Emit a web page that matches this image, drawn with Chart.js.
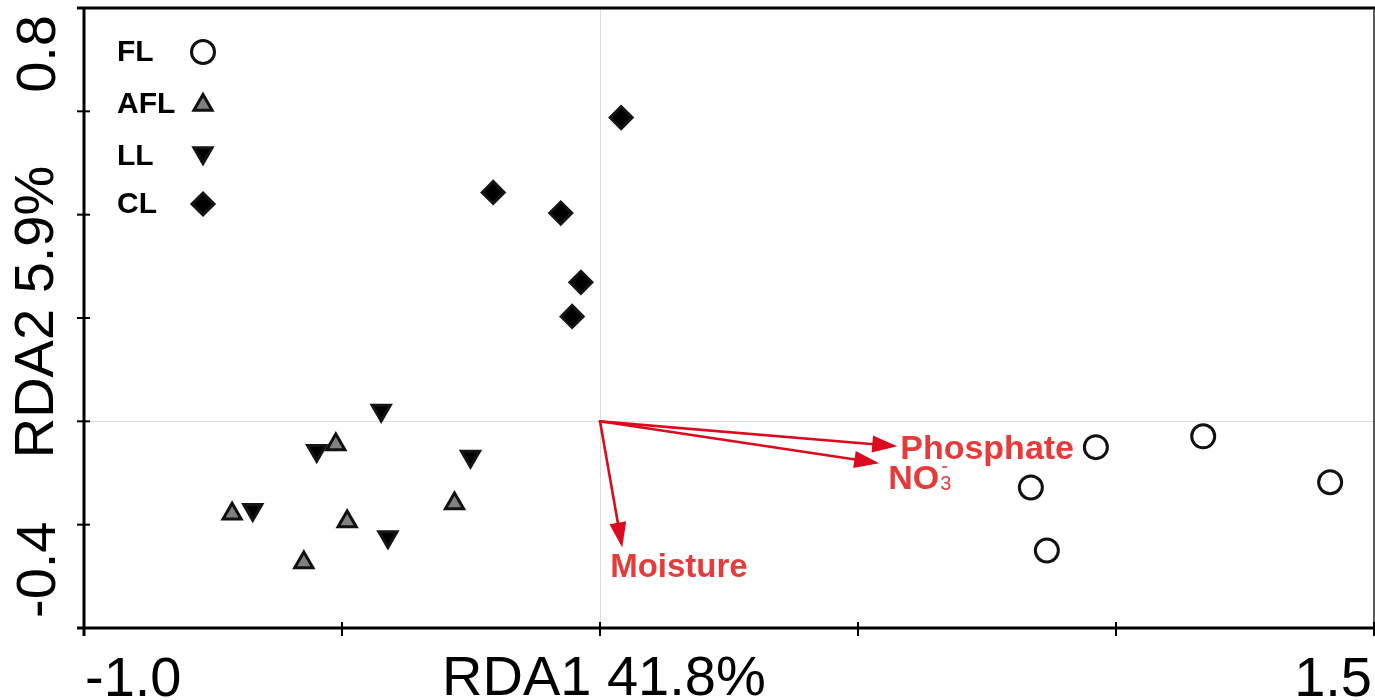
<!DOCTYPE html>
<html><head><meta charset="utf-8">
<script src="https://cdn.jsdelivr.net/npm/chart.js@4.4.1/dist/chart.umd.min.js"></script>
<style>html,body{margin:0;padding:0;background:#fff;}canvas{display:block;}</style>
</head><body>
<canvas id="c" width="1375" height="700"></canvas>
<script>
// ---- data ----
const groupNames = ['FL', 'AFL', 'LL', 'CL'];
const flX  = [0.961, 1.169, 1.415, 0.835, 0.866];
const flY  = [-0.050, -0.029, -0.118, -0.128, -0.250];
const aflX = [-0.512, -0.713, -0.490, -0.282, -0.574];
const aflY = [-0.045, -0.179, -0.194, -0.159, -0.273];
const llX  = [-0.424, -0.549, -0.251, -0.673, -0.411];
const llY  = [0.021, -0.057, -0.068, -0.171, -0.224];
const clX  = [0.041, -0.207, -0.076, -0.037, -0.054];
const clY  = [0.588, 0.443, 0.403, 0.269, 0.203];
const vectorNames = ['Phosphate', 'NO3', 'Moisture'];
const vectorX = [0.576, 0.541, 0.043];
const vectorY = [-0.048, -0.081, -0.244];
const xTickLabels = ['-1.0', '1.5'];
const yTickLabels = ['-0.4', '0.8'];
const xTitle = 'RDA1 41.8%';
const yTitle = 'RDA2 5.9%';

const FONT = '"Liberation Sans", Arial, sans-serif';
const pts = (xs, ys) => xs.map((x, i) => ({x: x, y: ys[i]}));

const styles = [
  {pointStyle: 'circle', radius: 11.5, bg: '#ffffff', border: '#111111', rot: 0},
  {pointStyle: 'triangle', radius: 10.5, bg: '#808080', border: '#111111', rot: 0},
  {pointStyle: 'triangle', radius: 10.5, bg: '#000000', border: '#151515', rot: 180},
  {pointStyle: 'rectRot', radius: 11, bg: '#000000', border: '#151515', rot: 0}
];
const series = [pts(flX, flY), pts(aflX, aflY), pts(llX, llY), pts(clX, clY)];

const datasets = series.map((d, i) => ({
  label: groupNames[i],
  data: d,
  pointStyle: styles[i].pointStyle,
  pointRadius: styles[i].radius,
  pointRotation: styles[i].rot,
  pointBackgroundColor: styles[i].bg,
  pointBorderColor: styles[i].border,
  pointBorderWidth: 3,
  showLine: false,
  clip: false
}));

function marker(ctx, st, x, y) {
  ctx.save();
  ctx.translate(x, y);
  ctx.rotate(st.rot * Math.PI / 180);
  ctx.beginPath();
  const r = st.radius;
  if (st.pointStyle === 'circle') {
    ctx.arc(0, 0, r, 0, Math.PI * 2);
  } else if (st.pointStyle === 'triangle') {
    for (let k = 0; k < 3; k++) {
      const a = k * 2 * Math.PI / 3;
      const px = Math.sin(a) * r, py = -Math.cos(a) * r;
      if (k === 0) ctx.moveTo(px, py); else ctx.lineTo(px, py);
    }
  } else {
    ctx.moveTo(0, -r); ctx.lineTo(r, 0); ctx.lineTo(0, r); ctx.lineTo(-r, 0);
  }
  ctx.closePath();
  ctx.fillStyle = st.bg; ctx.fill();
  ctx.lineWidth = 3; ctx.strokeStyle = st.border; ctx.stroke();
  ctx.restore();
}

const decor = {
  id: 'decor',
  afterDatasetsDraw(chart) {
    const ctx = chart.ctx, xs = chart.scales.x, ys = chart.scales.y;
    const ox = xs.getPixelForValue(0), oy = ys.getPixelForValue(0);
    const arrowCol = '#dc0a1e', textCol = '#e63b3b';
    const labelOff = [[3, 13], [9, 26], [-12, 30]];
    const labelSize = [34, 34, 33];
    vectorX.forEach((vx, i) => {
      const tx = xs.getPixelForValue(vx), ty = ys.getPixelForValue(vectorY[i]);
      const ang = Math.atan2(ty - oy, tx - ox);
      const L = 25, W = 8.5;
      const bx = tx - Math.cos(ang) * L, by = ty - Math.sin(ang) * L;
      ctx.save();
      ctx.strokeStyle = arrowCol; ctx.lineWidth = 2.6; ctx.lineCap = 'round';
      ctx.beginPath(); ctx.moveTo(ox, oy);
      ctx.lineTo(tx - Math.cos(ang) * L * 0.7, ty - Math.sin(ang) * L * 0.7); ctx.stroke();
      ctx.fillStyle = arrowCol;
      ctx.beginPath();
      ctx.moveTo(tx, ty);
      ctx.lineTo(bx - Math.sin(ang) * W, by + Math.cos(ang) * W);
      ctx.lineTo(bx + Math.sin(ang) * W, by - Math.cos(ang) * W);
      ctx.closePath(); ctx.fill();
      // label
      ctx.fillStyle = textCol; ctx.textBaseline = 'alphabetic'; ctx.textAlign = 'left';
      const lx = tx + labelOff[i][0], ly = ty + labelOff[i][1];
      ctx.font = 'bold ' + labelSize[i] + 'px ' + FONT;
      if (vectorNames[i] === 'NO3') {
        ctx.fillText('NO', lx, ly);
        const w = ctx.measureText('NO').width;
        ctx.font = '20px ' + FONT;
        ctx.fillText('3', lx + w + 1, ly + 1);
        ctx.fillRect(lx + w + 3, ly - 23, 5, 1.6);
      } else {
        ctx.fillText(vectorNames[i], lx, ly);
      }
      ctx.restore();
    });
  },
  afterDraw(chart) {
    const ctx = chart.ctx, xs = chart.scales.x, ys = chart.scales.y, ca = chart.chartArea;
    ctx.save();
    ctx.strokeStyle = '#000'; ctx.lineCap = 'butt';
    // top border
    ctx.lineWidth = 3;
    ctx.beginPath(); ctx.moveTo(77, ca.top); ctx.lineTo(ca.right + 1, ca.top); ctx.stroke();
    // right border
    ctx.lineWidth = 1.5; ctx.strokeStyle = '#222';
    ctx.beginPath(); ctx.moveTo(ca.right, ca.top); ctx.lineTo(ca.right, ca.bottom + 8); ctx.stroke();
    ctx.strokeStyle = '#000';
    // left axis
    ctx.lineWidth = 3;
    ctx.beginPath(); ctx.moveTo(ca.left, ca.top); ctx.lineTo(ca.left, ca.bottom + 8); ctx.stroke();
    // bottom axis
    ctx.beginPath(); ctx.moveTo(77, ca.bottom); ctx.lineTo(ca.right, ca.bottom); ctx.stroke();
    // ticks
    ctx.lineWidth = 2;
    ys.ticks.forEach(t => {
      const p = ys.getPixelForValue(t.value);
      ctx.beginPath(); ctx.moveTo(ca.left - 7, p); ctx.lineTo(ca.left + 6, p); ctx.stroke();
    });
    xs.ticks.forEach(t => {
      const p = xs.getPixelForValue(t.value);
      ctx.beginPath(); ctx.moveTo(p, ca.bottom - 6); ctx.lineTo(p, ca.bottom + 8); ctx.stroke();
    });
    // tick labels & titles
    ctx.fillStyle = '#000';
    ctx.font = '56px ' + FONT;
    ctx.textBaseline = 'alphabetic';
    ctx.textAlign = 'left';
    ctx.fillText(xTickLabels[0], ca.left + 1, 696);
    ctx.textAlign = 'right';
    ctx.fillText(xTickLabels[1], ca.right - 2, 696);
    ctx.textAlign = 'left';
    ctx.fillText(xTitle, 442, 695);
    // y labels rotated
    ctx.save(); ctx.translate(55, ca.bottom - 10); ctx.rotate(-Math.PI / 2);
    ctx.textAlign = 'left'; ctx.fillText(yTickLabels[0], 0, 0); ctx.restore();
    ctx.save(); ctx.translate(55, ca.top + 7); ctx.rotate(-Math.PI / 2);
    ctx.textAlign = 'right'; ctx.fillText(yTickLabels[1], 0, 0); ctx.restore();
    ctx.save(); ctx.translate(53, 312); ctx.rotate(-Math.PI / 2);
    ctx.textAlign = 'center'; ctx.fillText(yTitle, 0, 0); ctx.restore();
    // legend
    const legY = [52, 104, 156, 204];
    const legMY = [52, 105, 153, 204];
    ctx.font = 'bold 30px ' + FONT;
    ctx.textAlign = 'left'; ctx.textBaseline = 'middle';
    groupNames.forEach((g, i) => {
      ctx.fillStyle = '#000';
      ctx.fillText(g, 117, legY[i] + 1);
      marker(ctx, styles[i], 203, legMY[i]);
    });
    ctx.restore();
  }
};

new Chart(document.getElementById('c'), {
  type: 'scatter',
  data: {datasets: datasets},
  options: {
    responsive: false,
    animation: false,
    events: [],
    devicePixelRatio: 1,
    layout: {autoPadding: false, padding: {top: 8, right: 1, left: 0, bottom: 0}},
    plugins: {legend: {display: false}, tooltip: {enabled: false}},
    scales: {
      x: {
        type: 'linear', min: -1, max: 1.5,
        ticks: {display: false, stepSize: 0.5},
        border: {display: false},
        grid: {drawTicks: false, lineWidth: 1, color: c => (Math.abs(c.tick.value) < 1e-9 ? '#dcdcdc' : 'rgba(0,0,0,0)')},
        afterFit: s => { s.height = 72; }
      },
      y: {
        type: 'linear', min: -0.4, max: 0.8,
        ticks: {display: false, stepSize: 0.2},
        border: {display: false},
        grid: {drawTicks: false, lineWidth: 1, color: c => (Math.abs(c.tick.value) < 1e-9 ? '#dcdcdc' : 'rgba(0,0,0,0)')},
        afterFit: s => { s.width = 84; }
      }
    }
  },
  plugins: [decor]
});
</script>
</body></html>
